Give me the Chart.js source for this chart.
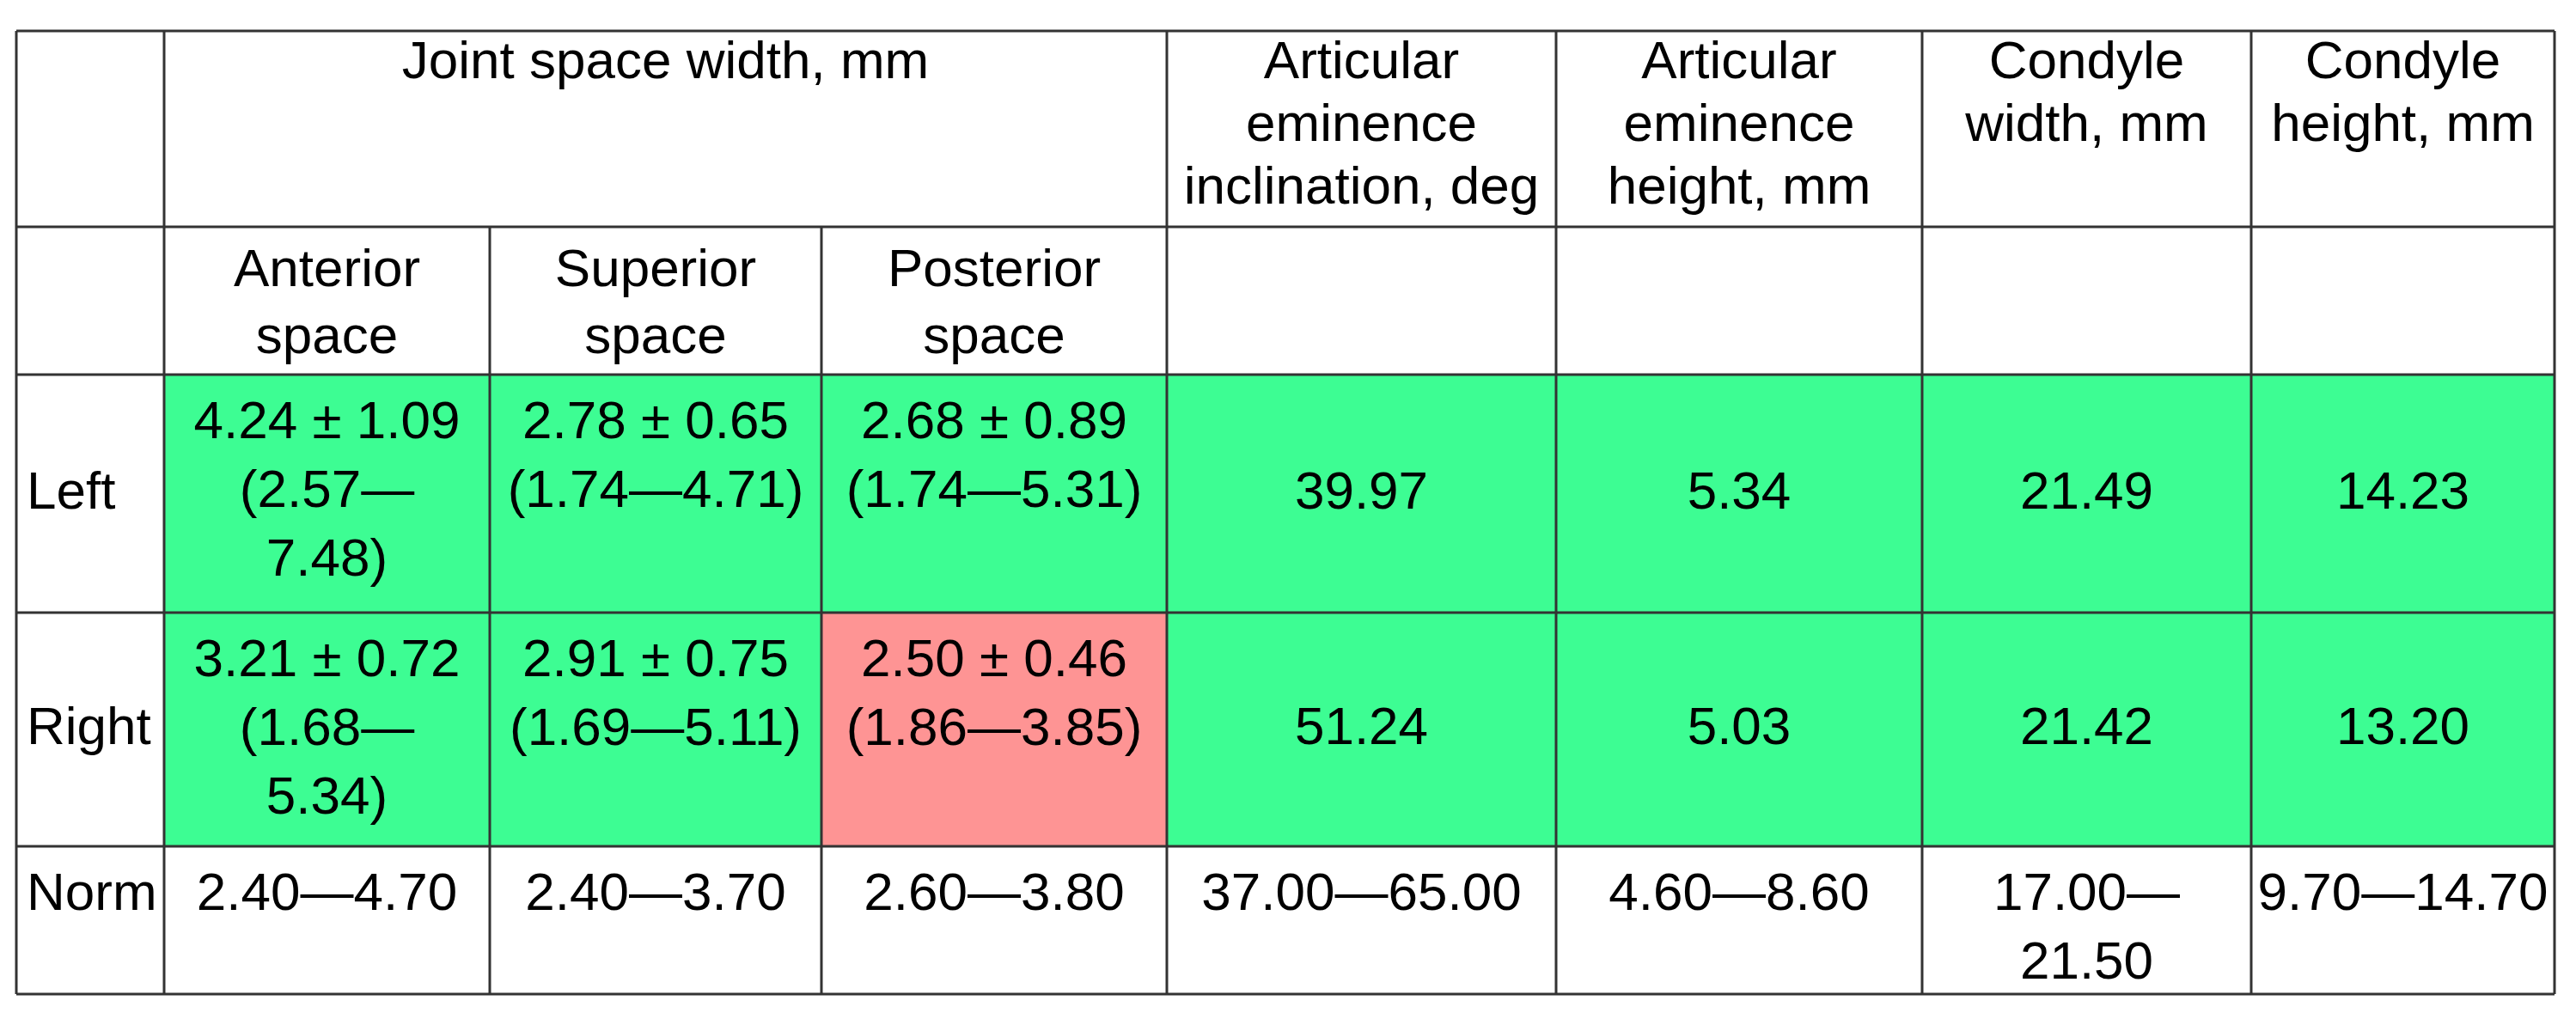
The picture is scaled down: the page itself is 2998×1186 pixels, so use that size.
<!DOCTYPE html>
<html>
<head>
<meta charset="utf-8">
<script src="https://cdn.jsdelivr.net/npm/chart.js@4.4.0/dist/chart.umd.min.js"></script>
<style>
  html, body { margin: 0; padding: 0; background: #fff; }
  #wrap { width: 2998px; height: 1186px; }
</style>
</head>
<body>
<div id="wrap"><canvas id="chart"></canvas></div>
<script>
// table content
const groupHeader = "Joint space width, mm";
const subHeaders = ["Anterior\nspace", "Superior\nspace", "Posterior\nspace"];
const otherHeaders = [
  "Articular\neminence\ninclination, deg",
  "Articular\neminence\nheight, mm",
  "Condyle\nwidth, mm",
  "Condyle\nheight, mm",
];
const rowLabels = ["Left", "Right", "Norm"];
const leftValues = ["4.24 ± 1.09\n(2.57—\n7.48)", "2.78 ± 0.65\n(1.74—4.71)", "2.68 ± 0.89\n(1.74—5.31)", "39.97", "5.34", "21.49", "14.23"];
const rightValues = ["3.21 ± 0.72\n(1.68—\n5.34)", "2.91 ± 0.75\n(1.69—5.11)", "2.50 ± 0.46\n(1.86—3.85)", "51.24", "5.03", "21.42", "13.20"];
const normValues = ["2.40—4.70", "2.40—3.70", "2.60—3.80", "37.00—65.00", "4.60—8.60", "17.00—\n21.50", "9.70—14.70"];
const leftStatus = ["ok", "ok", "ok", "ok", "ok", "ok", "ok"];
const rightStatus = ["ok", "ok", "low", "ok", "ok", "ok", "ok"];

// grid boundaries in scale units
const colEdges = [19, 191, 570, 956, 1358, 1811, 2237, 2620, 2973];
const rowEdges = [36, 264, 436, 713, 985, 1157];

const statusColor = { ok: "#3dfd93", low: "#fe9494" };
const FONT = "62px 'Liberation Sans', Arial, sans-serif";

const tablePlugin = {
  id: "tablePlugin",
  afterDraw(chart) {
    const ctx = chart.ctx;
    const xs = chart.scales.x, ys = chart.scales.y;
    const X = (v) => xs.getPixelForValue(v);
    const Y = (v) => ys.getPixelForValue(v);

    // fills
    [[leftStatus, 2], [rightStatus, 3]].forEach(([st, r]) => {
      st.forEach((s, c) => {
        ctx.fillStyle = statusColor[s];
        ctx.fillRect(X(colEdges[c + 1]), Y(rowEdges[r]), X(colEdges[c + 2]) - X(colEdges[c + 1]), Y(rowEdges[r + 1]) - Y(rowEdges[r]));
      });
    });

    // grid lines
    ctx.strokeStyle = "#333";
    ctx.lineWidth = 3;
    const line = (x0, y0, x1, y1) => {
      ctx.beginPath(); ctx.moveTo(X(x0), Y(y0)); ctx.lineTo(X(x1), Y(y1)); ctx.stroke();
    };
    rowEdges.forEach((y) => line(colEdges[0], y, colEdges[8], y));
    colEdges.forEach((x, i) => {
      if (i === 2 || i === 3) line(x, rowEdges[1], x, rowEdges[5]);
      else line(x, rowEdges[0], x, rowEdges[5]);
    });

    ctx.fillStyle = "#000";
    ctx.font = FONT;
    ctx.textBaseline = "middle";
    const text = (str, c0, c1, r, firstOff, lh, center) => {
      const lines = str.split("\n");
      const cx = (X(colEdges[c0]) + X(colEdges[c1])) / 2;
      let y0 = Y(rowEdges[r]) + firstOff;
      if (center && lines.length === 1) y0 = (Y(rowEdges[r]) + Y(rowEdges[r + 1])) / 2;
      ctx.textAlign = "center";
      lines.forEach((l, i) => ctx.fillText(l, cx, y0 + i * lh));
    };

    text(groupHeader, 1, 4, 0, 38, 73, false);
    otherHeaders.forEach((h, i) => text(h, 4 + i, 5 + i, 0, 38, 73, false));
    subHeaders.forEach((h, i) => text(h, 1 + i, 2 + i, 1, 52, 78, false));
    [leftValues, rightValues, normValues].forEach((vals, k) => {
      const r = 2 + k;
      vals.forEach((v, c) => text(v, c + 1, c + 2, r, 57, 80, k < 2));
      ctx.textAlign = "left";
      const y = k < 2 ? (Y(rowEdges[r]) + Y(rowEdges[r + 1])) / 2 : Y(rowEdges[r]) + 57;
      ctx.fillText(rowLabels[k], X(colEdges[0]) + 12, y);
    });
  },
};

new Chart(document.getElementById("chart").getContext("2d"), {
  type: "scatter",
  data: { datasets: [{ data: [] }] },
  options: {
    responsive: true,
    maintainAspectRatio: false,
    animation: false,
    layout: { padding: 0 },
    plugins: { legend: { display: false }, tooltip: { enabled: false } },
    scales: {
      x: { type: "linear", min: 0, max: 2998, display: false },
      y: { type: "linear", min: 0, max: 1186, reverse: true, display: false },
    },
  },
  plugins: [tablePlugin],
});
</script>
</body>
</html>
